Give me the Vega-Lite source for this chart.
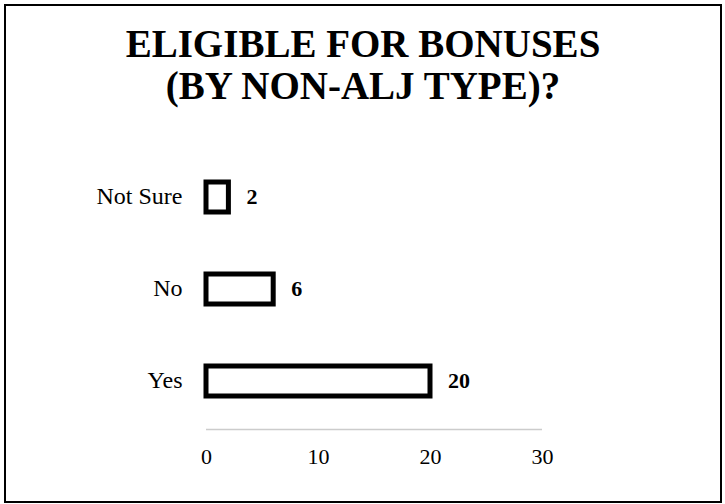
{
  "$schema": "https://vega.github.io/schema/vega-lite/v6.json",
  "width": 716,
  "height": 497,
  "autosize": "none",
  "padding": {"left": 5, "top": 5, "right": 4, "bottom": 2},
  "background": "white",
  "config": {
    "view": {"stroke": "black", "strokeWidth": 2},
    "font": "Liberation Serif",
    "title": {"font": "Liberation Serif", "fontWeight": "bold", "color": "black"},
    "axis": {"labelFont": "Liberation Serif", "labelColor": "black", "grid": false, "ticks": false, "title": null}
  },
  "title": {
    "text": ["ELIGIBLE FOR BONUSES", "(BY NON-ALJ TYPE)?"],
    "font": "Times New Roman",
    "fontSize": 39,
    "fontWeight": "bold",
    "color": "black",
    "anchor": "middle",
    "baseline": "top",
    "offset": -102,
    "lineHeight": 42
  },
  "data": {
    "values": [
      {"answer": "Not Sure", "count": 2},
      {"answer": "No", "count": 6},
      {"answer": "Yes", "count": 20}
    ]
  },
  "encoding": {
    "y": {
      "field": "answer",
      "type": "nominal",
      "sort": ["Not Sure", "No", "Yes"],
      "scale": {"range": [146, 422], "paddingInner": 0.674, "paddingOuter": 0.337},
      "axis": {"orient": "left", "offset": -200, "domain": false, "labelPadding": 23, "labelFontSize": 24}
    },
    "x": {
      "field": "count",
      "type": "quantitative",
      "scale": {"domain": [0, 30], "range": [201, 537], "nice": false, "zero": true},
      "axis": {"orient": "bottom", "offset": -73, "values": [0, 10, 20, 30], "domain": true, "domainColor": "#999999", "domainDash": [1, 1], "domainWidth": 1.5, "labelPadding": 17, "labelFontSize": 22, "labelFlush": false}
    }
  },
  "layer": [
    {"mark": {"type": "bar", "fill": "white", "stroke": "black", "strokeWidth": 5}},
    {"mark": {"type": "text", "align": "left", "baseline": "middle", "dx": 18, "fontSize": 22, "fontWeight": "bold", "color": "black", "font": "Liberation Serif"}, "encoding": {"text": {"field": "count", "type": "quantitative"}}}
  ]
}
